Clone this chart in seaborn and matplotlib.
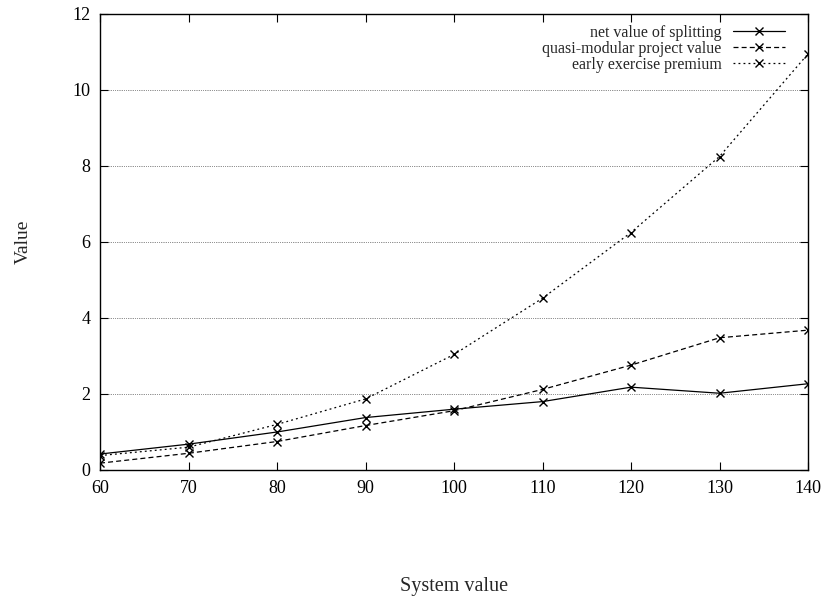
import matplotlib
matplotlib.use("Agg")
import matplotlib.pyplot as plt
import seaborn as sns
import pandas as pd

system_value = [60, 70, 80, 90, 100, 110, 120, 130, 140]
net_value_of_splitting = [0.42, 0.68, 1.00, 1.38, 1.60, 1.80, 2.18, 2.02, 2.27]
quasi_modular_project_value = [0.18, 0.44, 0.75, 1.17, 1.56, 2.12, 2.76, 3.48, 3.68]
early_exercise_premium = [0.38, 0.60, 1.20, 1.87, 3.04, 4.52, 6.25, 8.25, 10.95]

series_names = ["net value of splitting", "quasi-modular project value", "early exercise premium"]
x_ticks = [60, 70, 80, 90, 100, 110, 120, 130, 140]
y_ticks = [0, 2, 4, 6, 8, 10, 12]

sns.set_theme(style="ticks")
plt.rcParams["font.family"] = ["Liberation Serif", "DejaVu Serif"]

df = pd.DataFrame({
    "System value": system_value * 3,
    "Value": net_value_of_splitting + quasi_modular_project_value + early_exercise_premium,
    "series": sum([[n] * len(system_value) for n in series_names], []),
})

fig = plt.figure(figsize=(8.26, 6.03), dpi=100)
ax = fig.add_axes([100 / 826, 133 / 603, 708 / 826, 456 / 603])

styles = {
    series_names[0]: "-",
    series_names[1]: (0, (4, 2.5)),
    series_names[2]: (0, (1.5, 2.5)),
}
for name in series_names:
    sub = df[df["series"] == name]
    sns.lineplot(data=sub, x="System value", y="Value", ax=ax, color="black",
                 linestyle=styles[name], linewidth=0.9, marker="x", markersize=6,
                 markeredgewidth=1.0, markeredgecolor="black", markerfacecolor="black",
                 label=name)

for yv in y_ticks[1:-1]:
    ax.axhline(yv, color="black", linestyle=(0, (0.6, 1.6)), linewidth=0.6, zorder=0)

ax.set_xlim(60, 140)
ax.set_ylim(0, 12)
ax.set_xticks(x_ticks)
ax.set_yticks(y_ticks)
ax.tick_params(direction="in", length=6, width=0.8, top=True, right=True,
               labelsize=13, colors="black", pad=7)
for s in ax.spines.values():
    s.set_color("black")
    s.set_linewidth(1.0)

ax.set_xlabel("System value", fontsize=14.5)
ax.set_ylabel("Value", fontsize=14)
ax.xaxis.set_label_coords(0.5, -0.235)
ax.yaxis.set_label_coords(-0.097, 0.5)

leg = ax.legend(loc="upper right", bbox_to_anchor=(0.977, 0.990), frameon=False,
                markerfirst=False, fontsize=11.5, handlelength=3.3, handletextpad=0.69,
                labelspacing=0.0, borderaxespad=0.0)
for t in leg.get_texts():
    t.set_ha("right")
leg._legend_box.align = "right"

fig.savefig("out.png", dpi=100, facecolor="white")
